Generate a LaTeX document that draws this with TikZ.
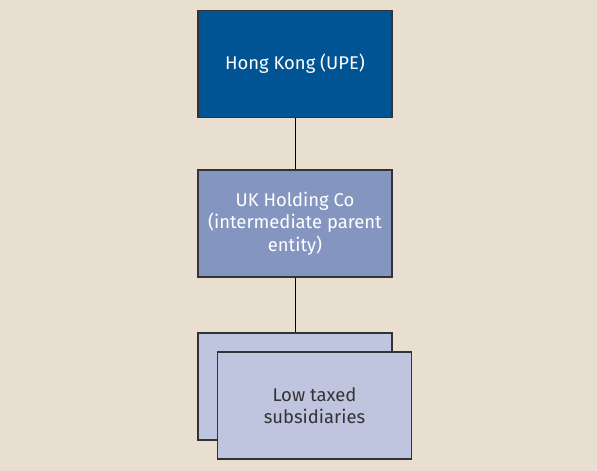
\documentclass[tikz,border=0pt]{standalone}
\usepackage{fontspec}
\setmainfont{Fira Sans}
\definecolor{bg}{HTML}{E8DFD0}
\definecolor{topc}{HTML}{005494}
\definecolor{midc}{HTML}{8496C0}
\definecolor{lowc}{HTML}{BFC5DE}
\definecolor{edge}{HTML}{333333}
\begin{document}
\begin{tikzpicture}[x=1bp,y=-1bp,
  box/.style={draw=edge,line width=1.2bp,minimum width=194bp,minimum height=107bp,inner sep=0pt,align=center,font=\fontsize{18.5}{22.5}\selectfont},
  conn/.style={draw=black,line width=1bp}]
\fill[bg] (0,0) rectangle (597,471);
\useasboundingbox (0,0) rectangle (597,471);
\node[box,fill=topc,text=white] (hk) at (295,64) {Hong Kong (UPE)};
\node[box,fill=midc,text=white] (uk) at (295,223.5) {UK Holding Co\\(intermediate parent\\entity)};
\node[box,fill=lowc] (back) at (295,386.5) {};
\node[box,fill=lowc,text=edge] (front) at (314.5,405.5) {Low taxed\\subsidiaries};
\draw[conn] (hk.south) -- (uk.north);
\draw[conn] (uk.south) -- (back.north);
\end{tikzpicture}
\end{document}
